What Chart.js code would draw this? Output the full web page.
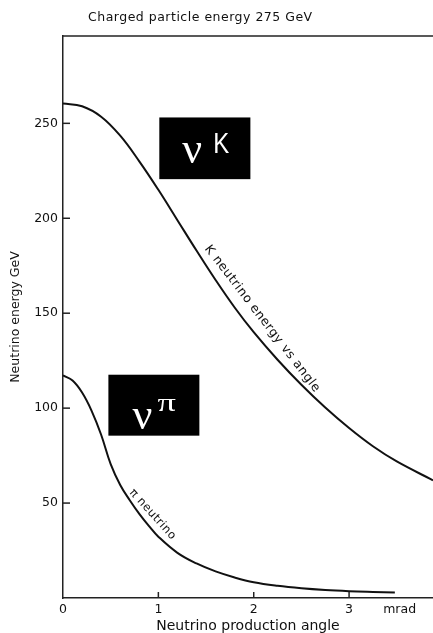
<!DOCTYPE html>
<html>
<head>
<meta charset="utf-8">
<script src="https://cdn.jsdelivr.net/npm/chart.js@4"></script>
<style>
  html, body { margin: 0; padding: 0; background: #fff; }
  #wrap { width: 433px; height: 633px; }
</style>
</head>
<body>
<div id="wrap"><canvas id="chart" width="433" height="633"></canvas></div>
<script>
// angle in mrad, energy in GeV
const kAngle  = [0, 0.2, 0.4, 0.6, 0.8, 1.0, 1.2, 1.4, 1.6, 1.8, 2.0, 2.25, 2.5, 2.75, 3.0, 3.25, 3.5, 3.88];
const kEnergy = [260.4, 259.0, 253.5, 243.5, 230, 215, 199, 183, 167.5, 153, 140, 125.5, 112.3, 100.3, 89.5, 79.9, 71.9, 62.0];

const piAngle  = [0, 0.1, 0.2, 0.3, 0.4, 0.5, 0.6, 0.7, 0.8, 0.9, 1.0, 1.2, 1.4, 1.6, 1.8, 2.0, 2.25, 2.5, 2.75, 3.0, 3.25, 3.48];
const piEnergy = [117.2, 114.5, 108.2, 98.6, 86.0, 70.5, 59.5, 51.5, 44.3, 38.0, 32.3, 23.8, 18.2, 14.0, 10.8, 8.3, 6.4, 5.1, 4.2, 3.6, 3.2, 2.9];

const xTickValues = [0, 1, 2, 3, 3.53];
const xTickLabels = ['0', '1', '2', '3', 'mrad'];
const yTickValues = [50, 100, 150, 200, 250];
const yTickLabels = ['50', '100', '150', '200', '250'];

const titleText = 'Charged particle energy 275 GeV';
const curveLabels = [
  { text: 'K neutrino energy vs angle', x: 2.09, y: 147, angle: 52.5, size: 12.5 },
  { text: '\u03c0 neutrino', x: 0.94, y: 44, angle: 48, size: 11.5 }
];
const boxes = [
  { x0: 1.01, x1: 1.965, y0: 253.1, y1: 220.6, nuDx: 23, nuGap: 16,
    sup: 'K', supFont: '30px "Liberation Sans"', supDx: 54, supGap: 26, supStretch: 0.8 },
  { x0: 0.476, x1: 1.43, y0: 117.6, y1: 85.5, nuDx: 24, nuGap: 7,
    sup: '\u03c0', supFont: '26px "Liberation Serif"', supDx: 49, supGap: 25, supStretch: 1.4 }
];

function toPoints(xs, ys) {
  return xs.map((x, i) => ({ x, y: ys[i] }));
}

const extras = {
  id: 'extras',
  afterDraw(chart) {
    const ctx = chart.ctx;
    const xs = chart.scales.x, ys = chart.scales.y;
    const area = chart.chartArea;
    ctx.save();
    ctx.strokeStyle = '#222';
    ctx.lineWidth = 1.5;
    // top frame line
    ctx.beginPath();
    ctx.moveTo(area.left, area.top);
    ctx.lineTo(area.right, area.top);
    ctx.stroke();
    // inward tick marks
    yTickValues.forEach(v => {
      const py = ys.getPixelForValue(v);
      ctx.beginPath();
      ctx.moveTo(area.left, py);
      ctx.lineTo(area.left + 7, py);
      ctx.stroke();
    });
    [1, 2, 3].forEach(v => {
      const px = xs.getPixelForValue(v);
      ctx.beginPath();
      ctx.moveTo(px, area.bottom);
      ctx.lineTo(px, area.bottom - 6);
      ctx.stroke();
    });
    // title
    ctx.fillStyle = '#111';
    ctx.font = '12.5px "DejaVu Sans"';
    ctx.letterSpacing = '0.5px';
    ctx.textAlign = 'left';
    ctx.textBaseline = 'middle';
    ctx.fillText(titleText, 88, 18);
    // labels along the curves
    ctx.textAlign = 'center';
    curveLabels.forEach(l => {
      ctx.save();
      ctx.font = l.size + 'px "DejaVu Sans"';
      ctx.translate(xs.getPixelForValue(l.x), ys.getPixelForValue(l.y));
      ctx.rotate(l.angle * Math.PI / 180);
      ctx.fillText(l.text, 0, 0);
      ctx.restore();
    });
    ctx.letterSpacing = '0px';
    // black boxes with nu symbols
    boxes.forEach(b => {
      const left = xs.getPixelForValue(b.x0), right = xs.getPixelForValue(b.x1);
      const top = ys.getPixelForValue(b.y0), bottom = ys.getPixelForValue(b.y1);
      ctx.fillStyle = '#000';
      ctx.fillRect(left, top, right - left, bottom - top);
      ctx.fillStyle = '#fff';
      ctx.textAlign = 'left';
      ctx.textBaseline = 'alphabetic';
      ctx.font = '44px "Liberation Serif"';
      ctx.fillText('\u03bd', left + b.nuDx, bottom - b.nuGap);
      ctx.save();
      ctx.translate(left + b.supDx, bottom - b.supGap);
      ctx.scale(b.supStretch, 1);
      ctx.font = b.supFont;
      ctx.fillText(b.sup, 0, 0);
      ctx.restore();
    });
    ctx.restore();
  }
};

new Chart(document.getElementById('chart'), {
  type: 'line',
  data: {
    datasets: [
      {
        label: 'K neutrino',
        data: toPoints(kAngle, kEnergy),
        borderColor: '#111',
        borderWidth: 2,
        pointRadius: 0,
        tension: 0.4,
        fill: false
      },
      {
        label: 'pi neutrino',
        data: toPoints(piAngle, piEnergy),
        borderColor: '#111',
        borderWidth: 2,
        pointRadius: 0,
        tension: 0.4,
        fill: false
      }
    ]
  },
  plugins: [extras],
  options: {
    responsive: false,
    animation: false,
    maintainAspectRatio: false,
    layout: { padding: { top: 36, left: 0, right: 0, bottom: 0 } },
    plugins: { legend: { display: false }, tooltip: { enabled: false } },
    scales: {
      x: {
        type: 'linear',
        min: 0,
        max: 3.88,
        afterBuildTicks: s => { s.ticks = xTickValues.map(v => ({ value: v })); },
        afterFit: s => { s.height = 35; },
        grid: { display: false, drawTicks: false },
        border: { display: true, color: '#222', width: 1.5 },
        ticks: {
          color: '#111',
          font: { family: 'DejaVu Sans', size: 12.5 },
          padding: 4,
          maxRotation: 0,
          autoSkip: false,
          callback: (v, i) => xTickLabels[i]
        },
        title: {
          display: true,
          text: 'Neutrino production angle',
          color: '#111',
          font: { family: 'DejaVu Sans', size: 14, lineHeight: 1 },
          padding: { top: 0, bottom: 0 }
        }
      },
      y: {
        min: 0,
        max: 296,
        afterBuildTicks: s => { s.ticks = yTickValues.map(v => ({ value: v })); },
        afterFit: s => { s.width = 63; },
        grid: { display: false, drawTicks: false },
        border: { display: true, color: '#222', width: 1.5 },
        ticks: {
          color: '#111',
          font: { family: 'DejaVu Sans', size: 12.5 },
          padding: 5,
          autoSkip: false,
          callback: (v, i) => yTickLabels[i]
        },
        title: {
          display: true,
          text: 'Neutrino energy GeV',
          color: '#111',
          font: { family: 'DejaVu Sans', size: 12.5 },
          padding: { top: 8, bottom: 0 }
        }
      }
    }
  }
});
</script>
</body>
</html>
